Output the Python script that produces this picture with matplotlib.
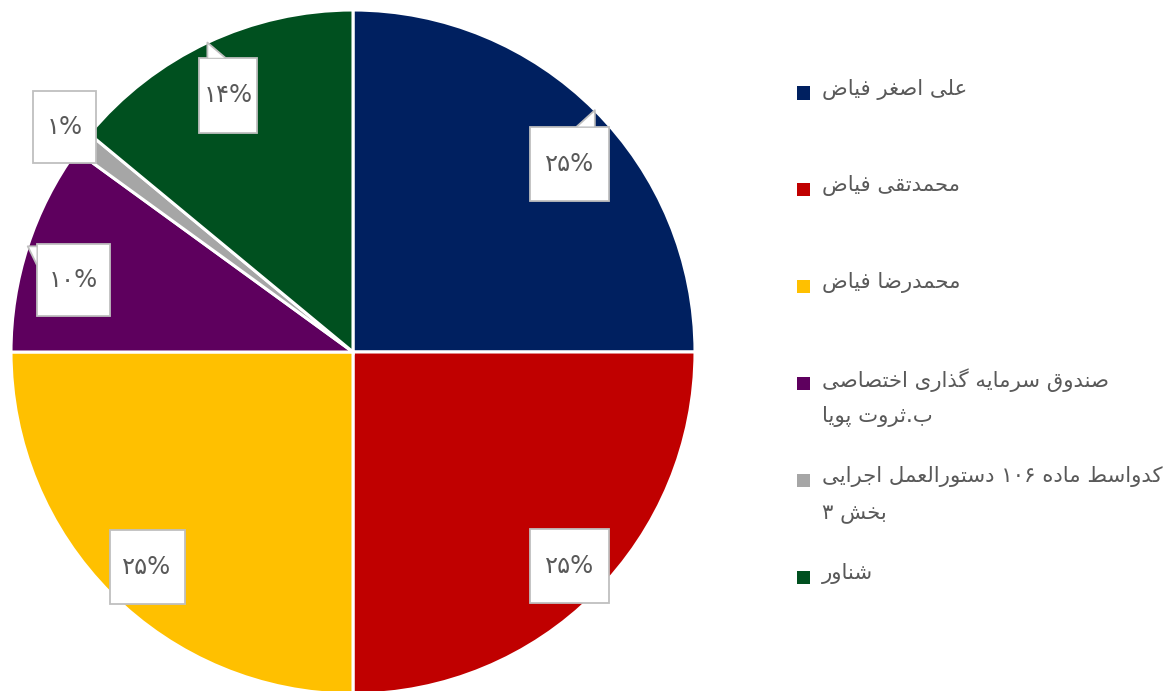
import re
import numpy as np
import matplotlib
matplotlib.use("Agg")
import matplotlib.pyplot as plt
from matplotlib.patches import Rectangle, Polygon

# data
labels = [
    "علی اصغر فیاض",
    "محمدتقی فیاض",
    "محمدرضا فیاض",
    "صندوق سرمایه گذاری اختصاصی\nب.ثروت پویا",
    "کدواسط ماده ۱۰۶ دستورالعمل اجرایی\nبخش ۳",
    "شناور",
]
values = [25, 25, 25, 10, 1, 14]
colors = ["#002060", "#C00000", "#FFC000", "#5E005E", "#A6A6A6", "#00501F"]

# label placement: fraction of radius, angle shift from slice middle (deg), box size px
label_r = [0.84, 0.89, 0.87, 0.845, 1.07, 0.835]
label_da = [-4, 0.3, 1.2, 3.6, -0.2, 0.8]
box_w = [79, 79, 75, 73, 63, 58]
box_h = [74, 74, 74, 72, 72, 75]

TEXT = "#595959"
W, H = 1171, 691
R_PX = 342.0

# --- minimal arabic/persian shaping (matplotlib has no text shaping) ---
DUAL = {'ب': 0xFE8F, 'ت': 0xFE95, 'ث': 0xFE99, 'ج': 0xFE9D, 'ح': 0xFEA1,
        'خ': 0xFEA5, 'س': 0xFEB1, 'ش': 0xFEB5, 'ص': 0xFEB9, 'ض': 0xFEBD,
        'ط': 0xFEC1, 'ظ': 0xFEC5, 'ع': 0xFEC9, 'غ': 0xFECD, 'ف': 0xFED1,
        'ق': 0xFED5, 'ل': 0xFEDD, 'م': 0xFEE1, 'ن': 0xFEE5, 'ه': 0xFEE9,
        'ی': 0xFBFC, 'پ': 0xFB56, 'ک': 0xFB8E, 'گ': 0xFB92, 'چ': 0xFB7A}
RIGHT = {'ا': 0xFE8D, 'د': 0xFEA9, 'ذ': 0xFEAB, 'ر': 0xFEAD, 'ز': 0xFEAF,
         'و': 0xFEED, 'ژ': 0xFB8A}


def shape(s):
    out = []
    i = 0
    while i < len(s):
        c = s[i]
        prev_joins = i > 0 and s[i - 1] in DUAL
        if c == 'ل' and i + 1 < len(s) and s[i + 1] == 'ا':
            out.append(chr(0xFEFC if prev_joins else 0xFEFB))
            i += 2
            continue
        if c in DUAL or c in RIGHT:
            jp = prev_joins
            jn = c in DUAL and i + 1 < len(s) and (s[i + 1] in DUAL or s[i + 1] in RIGHT)
            base = DUAL.get(c, RIGHT.get(c))
            out.append(chr(base + (3 if jp and jn else 1 if jp else 2 if jn else 0)))
        else:
            out.append(c)
        i += 1
    return "".join(out)


def rtl(s):
    tokens = re.findall(r"[0-9\u06F0-\u06F9]+|.", shape(s), flags=re.S)
    return "".join(reversed(tokens))


def fa_num(n):
    return str(n).translate(str.maketrans("0123456789", "۰۱۲۳۴۵۶۷۸۹"))


plt.rcParams['font.family'] = ['DejaVu Sans']

fig = plt.figure(figsize=(W / 100, H / 100), dpi=100)
cx, cy = 353, 352
ax = fig.add_axes([(cx - R_PX) / W, (H - cy - R_PX) / H, 2 * R_PX / W, 2 * R_PX / H])
wedges, _ = ax.pie(values, colors=colors, startangle=90, counterclock=False,
                   radius=1, wedgeprops=dict(edgecolor="white", linewidth=2.2))
ax.set_xlim(-1, 1)
ax.set_ylim(-1, 1)
ax.set_aspect("auto")
for w in wedges:
    w.set_clip_on(False)

# data labels: boxes with callout tails pointing at the rim
px = 1 / R_PX
total = sum(values)
start = 90.0
for v, r, da, bw, bh in zip(values, label_r, label_da, box_w, box_h):
    sweep = 360.0 * v / total
    mid = np.radians(start - sweep / 2)
    start -= sweep
    lx, ly = r * np.cos(mid + np.radians(da)), r * np.sin(mid + np.radians(da))
    hw, hh = bw * px / 2, bh * px / 2
    ax.add_patch(Rectangle((lx - hw, ly - hh), 2 * hw, 2 * hh, facecolor="white",
                           edgecolor="#BFBFBF", linewidth=1.3, clip_on=False, zorder=5))
    tx, ty = np.cos(mid), np.sin(mid)
    inside = abs(tx - lx) <= hw and abs(ty - ly) <= hh
    if not inside:
        px_ = min(max(tx, lx - hw), lx + hw)
        py_ = min(max(ty, ly - hh), ly + hh)
        L = 18 * px
        if abs(py_ - (ly + hh)) < 1e-9 or abs(py_ - (ly - hh)) < 1e-9:
            d = L if px_ < lx else -L
            b1, b2 = (px_, py_), (px_ + d, py_)
        else:
            d = L if py_ < ly else -L
            b1, b2 = (px_, py_), (px_, py_ + d)
        ax.add_patch(Polygon([b1, (tx, ty), b2], closed=True, facecolor="white",
                             edgecolor="none", clip_on=False, zorder=6))
        ax.plot([b1[0], tx, b2[0]], [b1[1], ty, b2[1]], color="#BFBFBF",
                linewidth=1.3, clip_on=False, zorder=7)
    ax.text(lx, ly, fa_num(v) + "%", ha="center", va="center", fontsize=17.5,
            color=TEXT, zorder=8)

# legend
leg_x = 797
leg_y0, leg_step = 93, 96.9
for i, (lab, col) in enumerate(zip(labels, colors)):
    y = leg_y0 + i * leg_step
    fig.patches.append(Rectangle((leg_x / W, 1 - (y + 6.5) / H), 13 / W, 13 / H,
                                 facecolor=col, edgecolor="none",
                                 transform=fig.transFigure))
    for j, line in enumerate(lab.split("\n")):
        fig.text(822 / W, 1 - (y - 4 + 37 * j) / H, rtl(line), ha="left",
                 va="center", fontsize=15.3, color=TEXT)

fig.savefig("out.png", dpi=100)
